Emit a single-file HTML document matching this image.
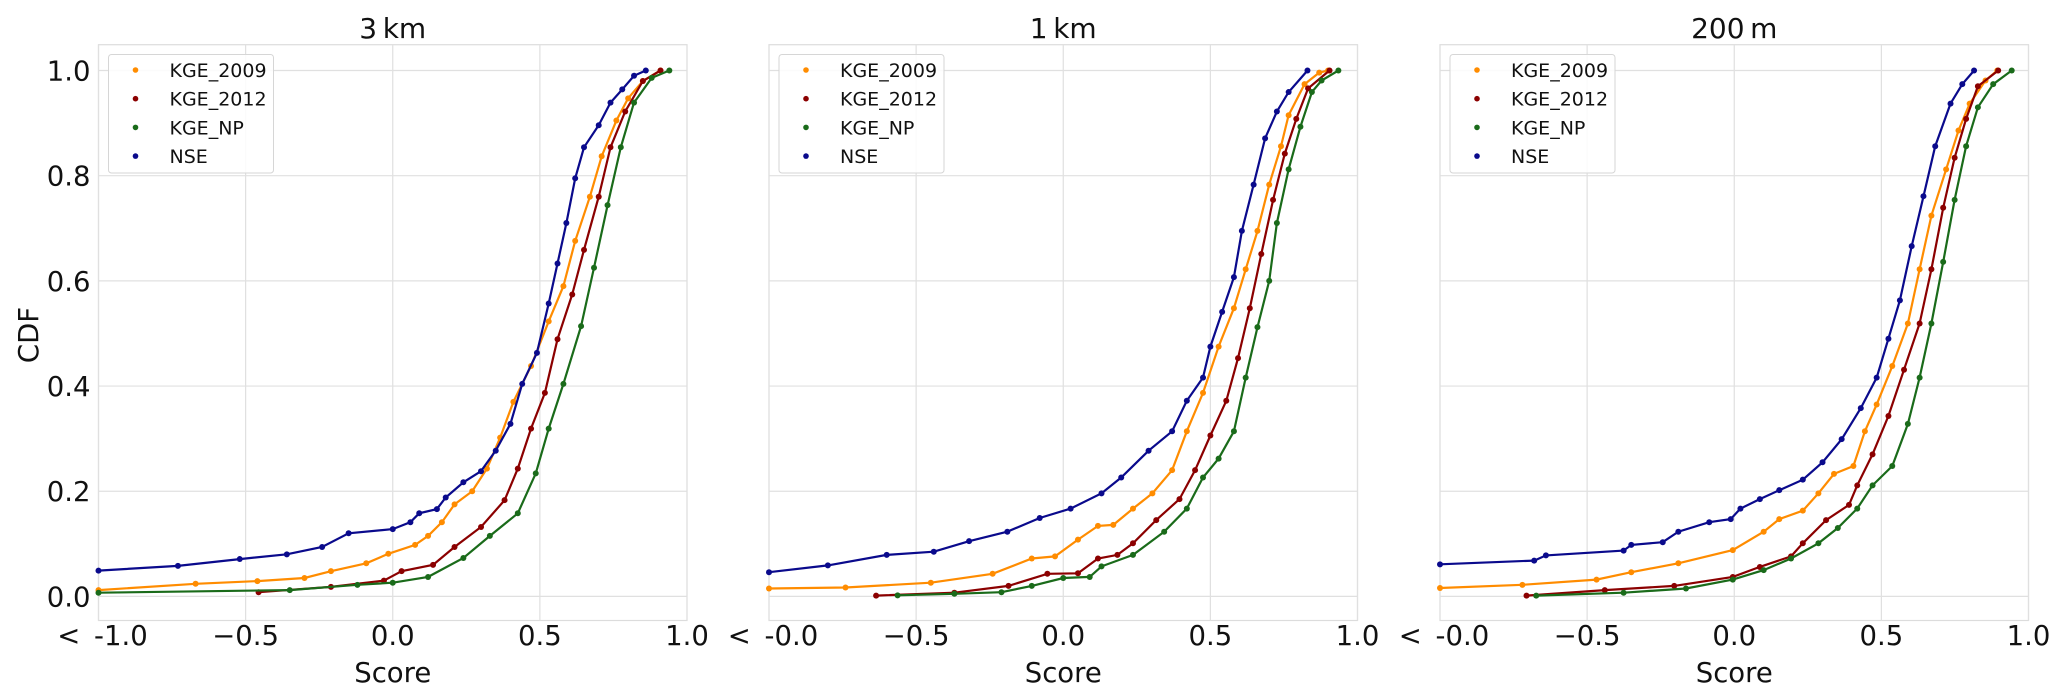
<!DOCTYPE html>
<html><head><meta charset="utf-8"><style>
html,body{margin:0;padding:0;background:#fff;}
svg{display:block;font-family:"DejaVu Sans","Liberation Sans",sans-serif;}
</style></head><body>
<svg id="chart" width="2067" height="695" viewBox="0 0 2067 695" xmlns="http://www.w3.org/2000/svg"></svg>
<script>
const panelTitles = ["3\u2009km", "1\u2009km", "200\u2009m"];
const seriesNames = ["KGE_2009", "KGE_2012", "KGE_NP", "NSE"];
const seriesColors = ["#ff8c00", "#8b0000", "#1a6b1a", "#0a0a8c"];
const xTickValues = [-1.0, -0.5, 0.0, 0.5, 1.0];
const xTickLabelsP1 = ["<\u2002-1.0", "\u22120.5", "0.0", "0.5", "1.0"];
const xTickLabelsP2 = ["<\u2002-0.0", "\u22120.5", "0.0", "0.5", "1.0"];
const yTickValues = [0.0, 0.2, 0.4, 0.6, 0.8, 1.0];
const yTickLabels = ["0.0", "0.2", "0.4", "0.6", "0.8", "1.0"];

// Panel 1 (3 km): [score, cdf]
const p1_kge2009 = [[-1.0,0.012],[-0.67,0.024],[-0.46,0.029],[-0.30,0.035],[-0.21,0.048],[-0.09,0.063],[-0.015,0.081],[0.076,0.098],[0.12,0.115],[0.167,0.141],[0.21,0.175],[0.27,0.2],[0.32,0.243],[0.365,0.302],[0.41,0.37],[0.47,0.438],[0.53,0.523],[0.58,0.59],[0.62,0.676],[0.67,0.76],[0.71,0.837],[0.76,0.905],[0.80,0.947],[0.85,0.98],[0.91,1.0]];
const p1_kge2012 = [[-0.456,0.008],[-0.21,0.018],[-0.03,0.03],[0.03,0.048],[0.137,0.06],[0.21,0.094],[0.30,0.132],[0.38,0.183],[0.425,0.243],[0.47,0.319],[0.517,0.387],[0.56,0.489],[0.61,0.574],[0.65,0.659],[0.70,0.76],[0.74,0.854],[0.79,0.922],[0.85,0.98],[0.91,1.0]];
const p1_kgenp = [[-1.0,0.007],[-0.35,0.012],[-0.12,0.022],[0.0,0.026],[0.12,0.037],[0.24,0.073],[0.33,0.115],[0.425,0.158],[0.486,0.234],[0.53,0.319],[0.58,0.404],[0.64,0.514],[0.684,0.625],[0.73,0.744],[0.775,0.854],[0.82,0.939],[0.88,0.986],[0.94,1.0]];
const p1_nse = [[-1.0,0.049],[-0.73,0.058],[-0.52,0.071],[-0.36,0.08],[-0.24,0.094],[-0.15,0.12],[0.0,0.128],[0.06,0.141],[0.09,0.158],[0.15,0.166],[0.18,0.188],[0.24,0.217],[0.30,0.238],[0.35,0.277],[0.40,0.328],[0.44,0.404],[0.49,0.463],[0.53,0.557],[0.56,0.633],[0.59,0.71],[0.62,0.795],[0.65,0.854],[0.70,0.896],[0.74,0.939],[0.78,0.964],[0.82,0.99],[0.86,1.0]];

// Panel 2 (1 km)
const p2_kge2009 = [[-1.0,0.015],[-0.74,0.017],[-0.45,0.026],[-0.24,0.043],[-0.107,0.072],[-0.028,0.076],[0.05,0.108],[0.118,0.134],[0.17,0.136],[0.237,0.167],[0.303,0.196],[0.37,0.24],[0.42,0.314],[0.475,0.387],[0.528,0.475],[0.58,0.548],[0.62,0.622],[0.66,0.695],[0.70,0.783],[0.74,0.856],[0.766,0.915],[0.82,0.974],[0.87,0.996],[0.90,1.0]];
const p2_kge2012 = [[-0.636,0.0015],[-0.37,0.007],[-0.186,0.02],[-0.054,0.043],[0.05,0.044],[0.118,0.072],[0.184,0.079],[0.237,0.101],[0.316,0.145],[0.395,0.185],[0.448,0.24],[0.50,0.306],[0.554,0.372],[0.594,0.453],[0.634,0.548],[0.673,0.651],[0.713,0.754],[0.753,0.842],[0.792,0.908],[0.832,0.966],[0.905,1.0]];
const p2_kgenp = [[-0.563,0.002],[-0.37,0.005],[-0.21,0.008],[-0.107,0.02],[0.0,0.035],[0.09,0.037],[0.13,0.057],[0.237,0.079],[0.343,0.123],[0.42,0.167],[0.475,0.226],[0.528,0.262],[0.58,0.314],[0.62,0.416],[0.66,0.512],[0.70,0.6],[0.726,0.71],[0.766,0.812],[0.806,0.893],[0.845,0.959],[0.878,0.981],[0.935,1.0]];
const p2_nse = [[-1.0,0.046],[-0.80,0.059],[-0.60,0.079],[-0.44,0.085],[-0.32,0.105],[-0.19,0.123],[-0.08,0.149],[0.025,0.167],[0.13,0.196],[0.197,0.226],[0.29,0.277],[0.37,0.314],[0.42,0.372],[0.475,0.416],[0.50,0.475],[0.54,0.541],[0.58,0.607],[0.607,0.695],[0.647,0.783],[0.686,0.871],[0.726,0.922],[0.766,0.959],[0.83,1.0]];

// Panel 3 (200 m)
const p3_kge2009 = [[-1.0,0.016],[-0.72,0.022],[-0.468,0.032],[-0.35,0.046],[-0.19,0.063],[-0.005,0.088],[0.1,0.123],[0.153,0.147],[0.233,0.163],[0.286,0.196],[0.339,0.233],[0.405,0.248],[0.444,0.314],[0.484,0.365],[0.537,0.438],[0.59,0.519],[0.63,0.622],[0.67,0.724],[0.72,0.812],[0.762,0.886],[0.80,0.937],[0.854,0.981],[0.894,1.0]];
const p3_kge2012 = [[-0.706,0.0015],[-0.44,0.012],[-0.204,0.02],[-0.005,0.037],[0.087,0.056],[0.193,0.076],[0.233,0.101],[0.312,0.145],[0.39,0.174],[0.418,0.211],[0.47,0.27],[0.524,0.343],[0.577,0.431],[0.63,0.519],[0.67,0.622],[0.71,0.739],[0.749,0.834],[0.788,0.908],[0.828,0.97],[0.897,1.0]];
const p3_kgenp = [[-0.673,0.0015],[-0.376,0.007],[-0.164,0.015],[-0.005,0.032],[0.1,0.05],[0.193,0.072],[0.286,0.101],[0.352,0.13],[0.418,0.167],[0.47,0.211],[0.537,0.248],[0.59,0.328],[0.63,0.416],[0.67,0.519],[0.71,0.636],[0.749,0.754],[0.788,0.856],[0.828,0.93],[0.88,0.974],[0.943,1.0]];
const p3_nse = [[-1.0,0.061],[-0.68,0.068],[-0.64,0.078],[-0.376,0.087],[-0.35,0.098],[-0.243,0.103],[-0.19,0.123],[-0.085,0.141],[-0.012,0.147],[0.021,0.167],[0.087,0.185],[0.153,0.202],[0.233,0.222],[0.3,0.255],[0.365,0.299],[0.43,0.358],[0.484,0.416],[0.524,0.49],[0.563,0.563],[0.603,0.666],[0.643,0.761],[0.683,0.856],[0.735,0.937],[0.775,0.974],[0.815,1.0]];

const panelData = [
  [p1_kge2009, p1_kge2012, p1_kgenp, p1_nse],
  [p2_kge2009, p2_kge2012, p2_kgenp, p2_nse],
  [p3_kge2009, p3_kge2012, p3_kgenp, p3_nse]
];

const NS = "http://www.w3.org/2000/svg";
const svg = document.getElementById("chart");
const panelLefts = [98.5, 769, 1440];
const plotW = 588.5, plotTop = 44.7, plotBottom = 620.5;
const yPix0 = 596.4, yPix1 = 70.5;
function mk(tag, attrs, parent) {
  const e = document.createElementNS(NS, tag);
  for (const k in attrs) e.setAttribute(k, attrs[k]);
  (parent || svg).appendChild(e);
  return e;
}
function xScale(p, v) { return panelLefts[p] + (v + 1) / 2 * plotW; }
function yScale(v) { return yPix0 + (yPix1 - yPix0) * v; }

for (let p = 0; p < 3; p++) {
  const g = mk("g", {});
  
  
  const L = panelLefts[p];
  const frame = mk("rect", {x: L, y: plotTop, width: plotW, height: plotBottom - plotTop, fill: "#fff", stroke: "#dcdcdc", "stroke-width": 1.2}, g);
  
  
  xTickValues.forEach((v, i) => {
    const x = xScale(p, v);
    const gl = mk("line", {x1: x, x2: x, y1: plotTop, y2: plotBottom, stroke: "#e0e0e0", "stroke-width": 1.2}, g);
    
    
    const lbls = p === 0 ? xTickLabelsP1 : xTickLabelsP2;
    let tx = x;
    if (i === 0) tx = x + 4;
    const t = mk("text", {x: tx, y: 645, "font-size": 27.5, "text-anchor": "middle", fill: "#111"}, g);
    t.textContent = lbls[i];
    
    
  });
  yTickValues.forEach((v, i) => {
    const y = yScale(v);
    const gl = mk("line", {x1: L, x2: L + plotW, y1: y, y2: y, stroke: "#e0e0e0", "stroke-width": 1.2}, g);
    
    
    if (p === 0) {
      const t = mk("text", {x: L - 8, y: y + 10, "font-size": 27.5, "text-anchor": "end", fill: "#111"}, g);
      t.textContent = yTickLabels[i];
      
      
    }
  });
  panelData[p].forEach((pts, s) => {
    const sg = mk("g", {}, g);
    
    
    const d = pts.map((q, i) => (i ? "L" : "M") + xScale(p, q[0]).toFixed(1) + " " + yScale(q[1]).toFixed(1)).join(" ");
    const path = mk("path", {d: d, fill: "none", stroke: seriesColors[s], "stroke-width": 2.2}, sg);
    
    
    pts.forEach(q => {
      const c = mk("circle", {cx: xScale(p, q[0]), cy: yScale(q[1]), r: 3, fill: seriesColors[s]}, sg);
      
      
    });
  });
  const lg = mk("g", {}, g);
  
  
  const lb = mk("rect", {x: L + 10, y: 54.5, width: 165, height: 118.5, rx: 3, fill: "#fff", "fill-opacity": 0.85, stroke: "#d6d6d6", "stroke-width": 1}, lg);
  
  
  seriesNames.forEach((n, s) => {
    const y = 70 + s * 28.7;
    const c = mk("circle", {cx: L + 37, cy: y, r: 2.8, fill: seriesColors[s]}, lg);
    
    
    const t = mk("text", {x: L + 71, y: y + 7, "font-size": 19, fill: "#111"}, lg);
    t.textContent = n;
    
    
  });
  const tt = mk("text", {x: L + plotW / 2, y: 38, "font-size": 28, "text-anchor": "middle", fill: "#111"}, g);
  tt.textContent = panelTitles[p];
  
  
  const xl = mk("text", {x: L + plotW / 2, y: 682, "font-size": 27.5, "text-anchor": "middle", fill: "#111"}, g);
  xl.textContent = "Score";
  
  
}
const yl = mk("text", {x: 0, y: 0, "font-size": 27.5, "text-anchor": "middle", fill: "#111", transform: "translate(38,335) rotate(-90)"});
yl.textContent = "CDF";


</script>
</body></html>
